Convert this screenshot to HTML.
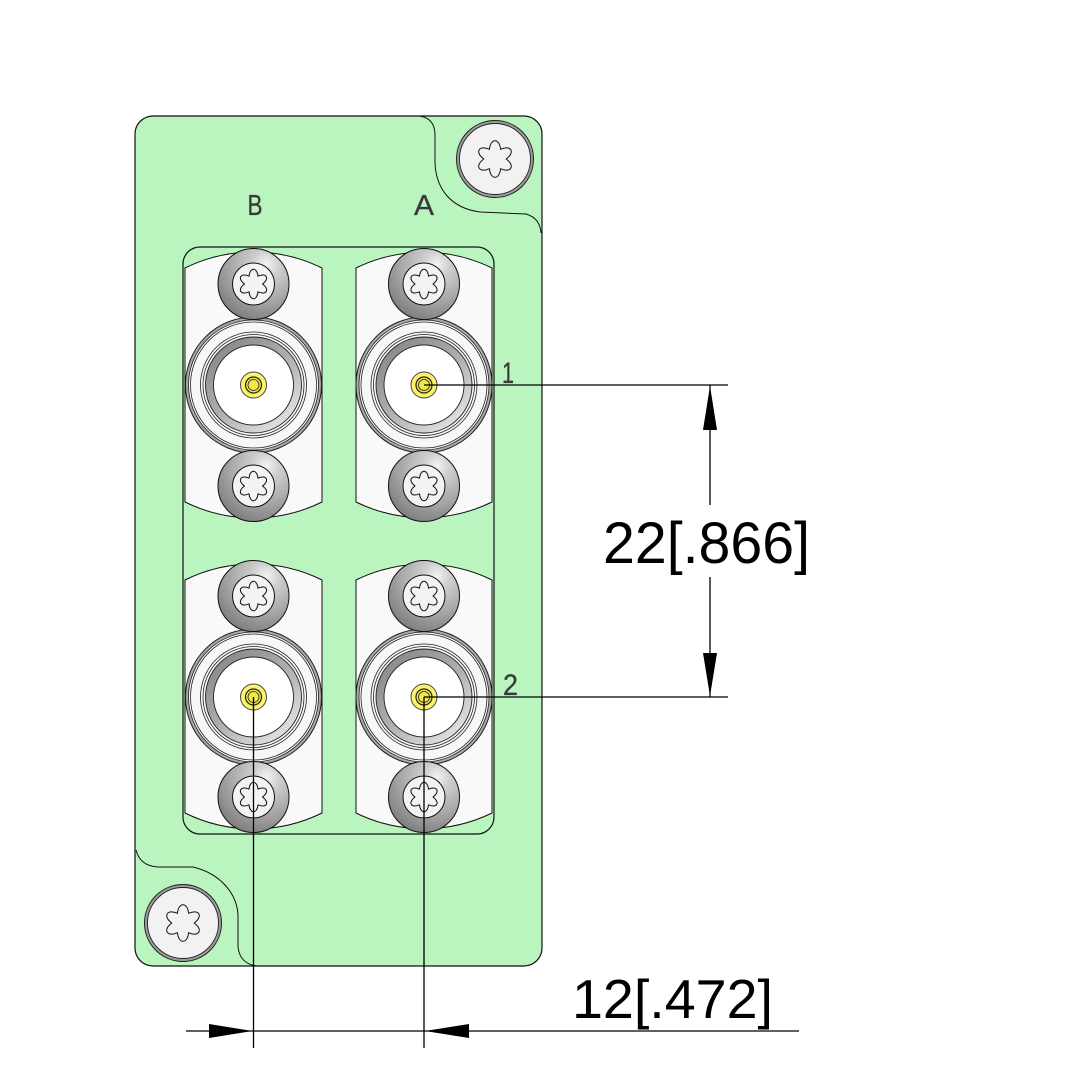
<!DOCTYPE html>
<html><head><meta charset="utf-8"><style>
html,body{margin:0;padding:0;background:#fff;}
svg{display:block;}
</style></head><body>
<svg width="1083" height="1083" viewBox="0 0 1083 1083" xmlns="http://www.w3.org/2000/svg">
<defs>
<radialGradient id="sg" cx="0.68" cy="0.22" r="0.85">
<stop offset="0" stop-color="#f4f4f4"/>
<stop offset="0.22" stop-color="#cfcfcf"/>
<stop offset="0.65" stop-color="#a2a2a2"/>
<stop offset="1" stop-color="#7c7c7c"/>
</radialGradient>
<linearGradient id="rg" x1="0.15" y1="0.1" x2="0.85" y2="0.95">
<stop offset="0" stop-color="#8a8a8a"/>
<stop offset="0.55" stop-color="#b4b4b4"/>
<stop offset="1" stop-color="#e6e6e6"/>
</linearGradient>
<path id="torx" d="M-0.31,-0.537 C-0.249,-1.174 0.249,-1.174 0.31,-0.537 C0.892,-0.803 1.141,-0.371 0.62,0 C1.141,0.371 0.892,0.803 0.31,0.537 C0.249,1.174 -0.249,1.174 -0.31,0.537 C-0.892,0.803 -1.141,0.371 -0.62,0 C-1.141,-0.371 -0.892,-0.803 -0.31,-0.537 Z"/>
<g id="screw">
<circle r="35.5" fill="url(#sg)" stroke="#111" stroke-width="1"/>
<circle r="21" fill="#f3f3f3" stroke="#111" stroke-width="1"/>
<use href="#torx" transform="scale(14.5)" fill="#f3f3f3" stroke="#111" stroke-width="0.07" stroke-linejoin="round"/>
</g>
<g id="bnc">
<circle r="68" fill="#a8a8a8" stroke="#222" stroke-width="1"/>
<circle r="65" fill="#f7f7f7" stroke="#222" stroke-width="0.8"/>
<circle r="63" fill="none" stroke="#222" stroke-width="0.8"/>
<circle r="53" fill="none" stroke="#222" stroke-width="0.8"/>
<circle r="50.5" fill="none" stroke="#222" stroke-width="0.8"/>
<circle r="48" fill="url(#rg)" stroke="#222" stroke-width="0.9"/>
<circle r="40" fill="#ffffff" stroke="#222" stroke-width="0.9"/>
<circle r="13" fill="#fbf36a" stroke="#444" stroke-width="1"/>
<circle r="8" fill="#f2e64a" stroke="#222" stroke-width="1.2"/>
<circle r="5.5" fill="none" stroke="#222" stroke-width="0.8"/>
</g>
<g id="cscrew">
<circle r="38.5" fill="#9c9c9c" stroke="#222" stroke-width="1"/>
<circle r="35.5" fill="#f2f2f2" stroke="#222" stroke-width="0.9"/>
<use href="#torx" transform="scale(18)" fill="#f2f2f2" stroke="#111" stroke-width="0.055" stroke-linejoin="round"/>
</g>
</defs>

<!-- panel -->
<rect x="135" y="116" width="407" height="850" rx="18" ry="18" fill="#baf5c0" stroke="#111" stroke-width="1.2"/>
<!-- cutouts -->
<path d="M419,116 Q435,118 435,135 L435,163 C436,188 450,208 480,212 L526,214 Q540,218 541,233" fill="none" stroke="#111" stroke-width="1"/>
<path d="M136,850 Q140,866 158,867 L193,867 C222,874 237,895 238,915 L238,947 Q240,964 257,966" fill="none" stroke="#111" stroke-width="1"/>

<use href="#cscrew" x="495" y="159"/>
<use href="#cscrew" x="183" y="923"/>

<!-- housing -->
<rect x="183" y="247" width="311" height="587" rx="17" ry="17" fill="#baf5c0" stroke="#111" stroke-width="1.2"/>

<!-- white panels -->
<g fill="#f9f9f9" stroke="#111" stroke-width="1">
<path d="M185,268 A155,155 0 0 1 322,268 L322,502 A155,155 0 0 1 185,502 Z"/>
<path d="M356,268 A155,155 0 0 1 492,268 L492,502 A155,155 0 0 1 356,502 Z"/>
<path d="M185,580 A155,155 0 0 1 322,580 L322,813 A155,155 0 0 1 185,813 Z"/>
<path d="M356,580 A155,155 0 0 1 492,580 L492,813 A155,155 0 0 1 356,813 Z"/>
</g>

<!-- connectors -->
<use href="#bnc" x="253.5" y="385"/>
<use href="#bnc" x="424" y="385"/>
<use href="#bnc" x="253.5" y="697"/>
<use href="#bnc" x="424" y="697"/>

<use href="#screw" x="253.5" y="284"/>
<use href="#screw" x="253.5" y="486"/>
<use href="#screw" x="424" y="284"/>
<use href="#screw" x="424" y="486"/>
<use href="#screw" x="253.5" y="596"/>
<use href="#screw" x="253.5" y="797"/>
<use href="#screw" x="424" y="596"/>
<use href="#screw" x="424" y="797"/>

<!-- labels -->
<g font-family="'Liberation Sans', sans-serif" fill="#3a3a3a" stroke="#3a3a3a" stroke-width="0.3">
<text x="255" y="215" font-size="29" text-anchor="middle" textLength="15" lengthAdjust="spacingAndGlyphs">B</text>
<text x="424" y="215" font-size="29" text-anchor="middle" textLength="20" lengthAdjust="spacingAndGlyphs">A</text>
<text x="502" y="383" font-size="30" textLength="12" lengthAdjust="spacingAndGlyphs">1</text>
<text x="503" y="695" font-size="30" textLength="15" lengthAdjust="spacingAndGlyphs">2</text>
</g>

<!-- dimension lines -->
<g stroke="#000" stroke-width="1.3" fill="none">
<line x1="424" y1="385" x2="728" y2="385"/>
<line x1="424" y1="697" x2="728" y2="697"/>
<line x1="710" y1="385" x2="710" y2="505"/>
<line x1="710" y1="577" x2="710" y2="697"/>
<line x1="253.5" y1="697" x2="253.5" y2="1048"/>
<line x1="424" y1="697" x2="424" y2="1048"/>
<line x1="186" y1="1031" x2="799" y2="1031"/>
</g>
<g fill="#000">
<polygon points="710,386 703,430 717,430"/>
<polygon points="710,696 703,653 717,653"/>
<polygon points="252.5,1031 209,1024 209,1038"/>
<polygon points="425,1031 469,1024 469,1038"/>
</g>
<g font-family="'Liberation Sans', sans-serif" fill="#000">
<text x="603" y="563" font-size="58" textLength="207" lengthAdjust="spacingAndGlyphs">22[.866]</text>
<text x="572" y="1018" font-size="55" textLength="201" lengthAdjust="spacingAndGlyphs">12[.472]</text>
</g>
</svg>
</body></html>
